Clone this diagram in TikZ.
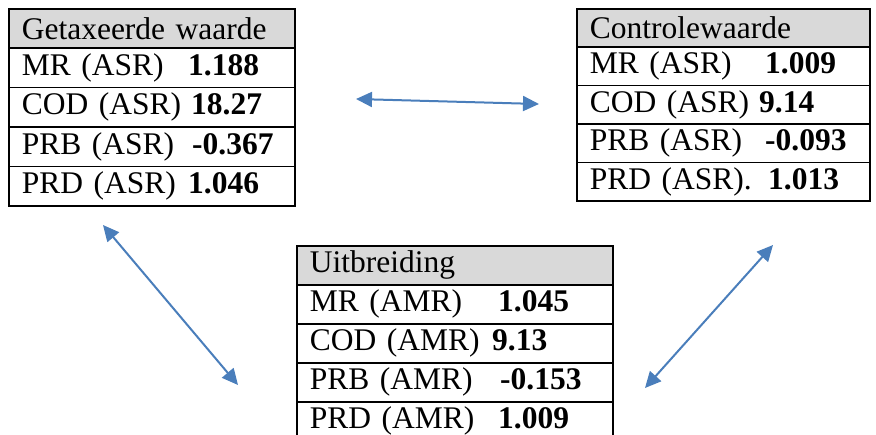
\documentclass[tikz,border=0pt]{standalone}
\usepackage{fontspec}
\setmainfont{Liberation Serif}
\usetikzlibrary{arrows.meta,positioning}
\definecolor{kopgrijs}{HTML}{D9D9D9}
\definecolor{pijlblauw}{HTML}{4A7EBB}

\tikzset{
  cel/.style={draw, line width=1.6pt, anchor=north west, align=left,
              inner xsep=13pt, inner ysep=0pt,
              font=\fontsize{31.5}{36}\selectfont},
  kop/.style={cel, fill=kopgrijs},
  waarde/.style={anchor=base west, inner sep=0pt,
                 font=\fontsize{31.5}{36}\selectfont\bfseries},
  pijl/.style={{Triangle[length=16pt,width=15pt]}-{Triangle[length=16pt,width=15pt]},
               draw=pijlblauw, fill=pijlblauw, line width=2pt}
}

\begin{document}
\begin{tikzpicture}[x=1pt,y=-1pt]
\useasboundingbox (0,0) rectangle (876,434);

%% Getaxeerde waarde
\node[kop, text width=260pt, minimum height=39.4pt] (gw) at (8,8) {Getaxeerde waarde};
\foreach \lab/\val/\vx [count=\i] in {MR (ASR)/1.188/180, COD (ASR)/18.27/183,
                                      PRB (ASR)/-0.367/184, PRD (ASR)/1.046/180}{
  \node[cel, text width=260pt, minimum height=39.4pt] (gw\i) at (8,{8+39.4*\i}) {\lab};
  \node[waarde] (gwv\i) at ([xshift=\vx pt]gw\i.base west) {\val};
}

%% Controlewaarde
\node[kop, text width=267pt, minimum height=38.4pt] (cw) at (576,8) {Controlewaarde};
\foreach \lab/\val/\vx [count=\i] in {MR (ASR)/1.009/189, COD (ASR)/9.14/183,
                                      PRB (ASR)/-0.093/189, PRD (ASR)./1.013/192}{
  \node[cel, text width=267pt, minimum height=38.4pt] (cw\i) at (576,{8+38.4*\i}) {\lab};
  \node[waarde] (cwv\i) at ([xshift=\vx pt]cw\i.base west) {\val};
}

%% Uitbreiding
\node[kop, text width=290pt, minimum height=39pt] (ub) at (296,245) {Uitbreiding};
\foreach \lab/\val/\vx [count=\i] in {MR (AMR)/1.045/202, COD (AMR)/9.13/196,
                                      PRB (AMR)/-0.153/204, PRD (AMR)/1.009/202}{
  \node[cel, text width=290pt, minimum height=39pt] (ub\i) at (296,{245+39*\i}) {\lab};
  \node[waarde] (ubv\i) at ([xshift=\vx pt]ub\i.base west) {\val};
}

%% pijlen
\coordinate (gw-oost) at (356,99);
\coordinate (cw-west) at (539,104);
\coordinate (gw-zuid) at (103,225);
\coordinate (ub-west) at (238,385);
\coordinate (cw-zuid) at (773,245);
\coordinate (ub-oost) at (645,388);

\draw[pijl] (gw-oost) -- (cw-west);
\draw[pijl] (gw-zuid) -- (ub-west);
\draw[pijl] (cw-zuid) -- (ub-oost);
\end{tikzpicture}
\end{document}
